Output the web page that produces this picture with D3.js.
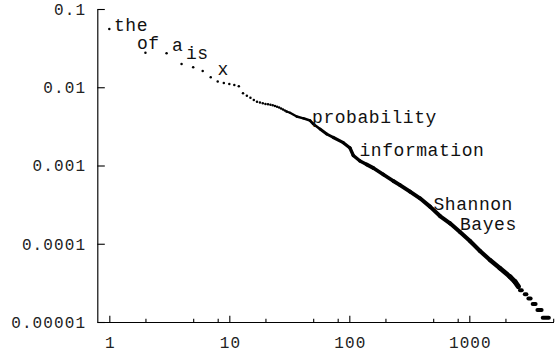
<!DOCTYPE html>
<html><head><meta charset="utf-8">
<script src="https://cdn.jsdelivr.net/npm/d3@7"></script>
<style>html,body{margin:0;padding:0;background:#fff;} svg{display:block;}</style>
</head><body><svg id="c" width="558" height="351"></svg>
<script>
// ---- data ----
const topRanks = [1,2,3,4,5,6,7,8,9,10,11,12,13,14,15,16,17,18,19,20,21,22,23,24,25,26,27,28,29,30];
const topFreqs = [0.0555,0.0276,0.0272,0.0198,0.0180,0.01613,0.0134,0.01184,0.01133,0.01100,
                  0.01068,0.01028,0.00837,0.00780,0.00735,0.00687,0.00652,0.00637,0.00623,0.00611,
                  0.006054,0.005966,0.005879,0.005760,0.005642,0.005511,0.005351,0.005196,0.005045,0.004898];
const curveRanks = [30,32.05,36.45,41.4,47.0,50.1,57.0,64.8,73.6,89.1,101.3,108.0,122.8,139.6,158.5,192,232.7,264.6,
                    320.5,388.2,470.5,570,690.6,836.5,1013,1228,1487,1802,2184,2403,2561];
const curveFreqs = [0.004898,0.004727,0.004229,0.004010,0.003759,0.003391,0.002927,0.002527,0.002279,0.001956,0.001674,
                    0.001342,0.001142,0.001030,0.000929,0.000767,0.000634,0.000563,0.000463,0.000381,0.000298,0.000226,
                    0.0001826,0.0001413,0.0001084,0.0000808,0.0000620,0.0000486,0.0000379,0.0000327,0.0000284];
const tailCounts = [9,8,7,6,5,4];
const tailFreqs = [2.55e-5,2.27e-5,1.99e-5,1.70e-5,1.42e-5,1.135e-5];
const tailStartRanks = [2645,2900,3108,3374,3694,4090];
const tailEndRanks = [2735,2990,3243,3568,4004,4600];
const labelWords = ["the","of","a","is","x","probability","information","Shannon","Bayes"];
const labelRanks = [1.094,1.701,3.33,4.357,7.973,48.9,121.6,503,836.6];
const labelFreqs = [0.05235,0.03037,0.02932,0.02296,0.01421,0.003492,0.001322,0.000270,0.0001499];
const xTickValues = [1,10,100,1000];
const xTickLabels = ["1","10","100","1000"];
const xMinorTicks = [2,5,8,20,50,80,200,500,800,2000,5000];
const yTickValues = [0.1,0.01,0.001,0.0001,0.00001];
const yTickLabels = ["0.1","0.01","0.001","0.0001","0.00001"];

// ---- chart ----
const svg = d3.select("#c");
const x = d3.scaleLog().domain([0.794, 5030]).range([97.3, 553.5]);
const y = d3.scaleLog().domain([1e-5, 0.1]).range([322, 9]);
const FONT = "'Liberation Mono', 'DejaVu Sans Mono', monospace";

// x axis
const gx = svg.append("g").attr("transform", "translate(0,322)");
gx.call(d3.axisBottom(x).tickValues(xTickValues).tickSize(-6.3).tickSizeOuter(0).tickPadding(0)
  .tickFormat((d,i)=>xTickLabels[i]));
const gxm = svg.append("g").attr("transform", "translate(0,322)");
gxm.call(d3.axisBottom(x).tickValues(xMinorTicks).tickSize(-3.3).tickSizeOuter(0).tickFormat(""));
gxm.select(".domain").remove();
gx.selectAll("text").attr("y", 25.5).attr("dy", 0).attr("dx", 0.55)
  .style("font-family", FONT).style("font-size", "16px").style("letter-spacing", "1.1px").attr("fill", "#222");

// y axis
const gy = svg.append("g").attr("transform", "translate(97.3,0)");
gy.call(d3.axisLeft(y).tickValues(yTickValues).tickSize(-7.5).tickSizeOuter(0).tickPadding(0)
  .tickFormat((d,i)=>yTickLabels[i]));
gy.selectAll("text").attr("x", -11.2).attr("dy", "0.33em")
  .style("font-family", FONT).style("font-size", "16px").style("letter-spacing", "1.1px").attr("fill", "#222");

svg.selectAll(".domain").attr("stroke", "#000").attr("stroke-width", 1.15);
svg.selectAll(".tick line").attr("stroke", "#000").attr("stroke-width", 1.1);

// dense curve: segments through read points, width growing with rank
const widthScale = d3.scaleLog().domain([30, 150, 1500, 2600]).range([2.2, 3.7, 4.3, 5.2]).clamp(true);
const segs = d3.range(curveRanks.length - 1).map(i => [i, i+1]);
svg.append("g").selectAll("line").data(segs).join("line")
  .attr("x1", d => x(curveRanks[d[0]])).attr("y1", d => y(curveFreqs[d[0]]))
  .attr("x2", d => x(curveRanks[d[1]])).attr("y2", d => y(curveFreqs[d[1]]))
  .attr("stroke", "#000").attr("stroke-linecap", "round")
  .attr("stroke-width", d => widthScale((curveRanks[d[0]] + curveRanks[d[1]]) / 2));

// tail: discrete count levels
svg.append("g").selectAll("line").data(tailCounts).join("line")
  .attr("x1", (d,i) => x(tailStartRanks[i])).attr("x2", (d,i) => x(tailEndRanks[i]))
  .attr("y1", (d,i) => y(tailFreqs[i])).attr("y2", (d,i) => y(tailFreqs[i]))
  .attr("stroke", "#000").attr("stroke-width", 4).attr("stroke-linecap", "round");

// top ranks as individual dots
svg.append("g").selectAll("circle").data(topRanks).join("circle")
  .attr("cx", d => x(d)).attr("cy", (d,i) => y(topFreqs[i])).attr("r", 1.25).attr("fill", "#000");

// word labels
svg.append("g").selectAll("text").data(labelWords).join("text")
  .attr("x", (d,i) => x(labelRanks[i])).attr("y", (d,i) => y(labelFreqs[i]))
  .text(d => d)
  .style("font-family", FONT).style("font-size", "18px").style("letter-spacing", "0.55px")
  .attr("fill", "#111");
</script></body></html>
